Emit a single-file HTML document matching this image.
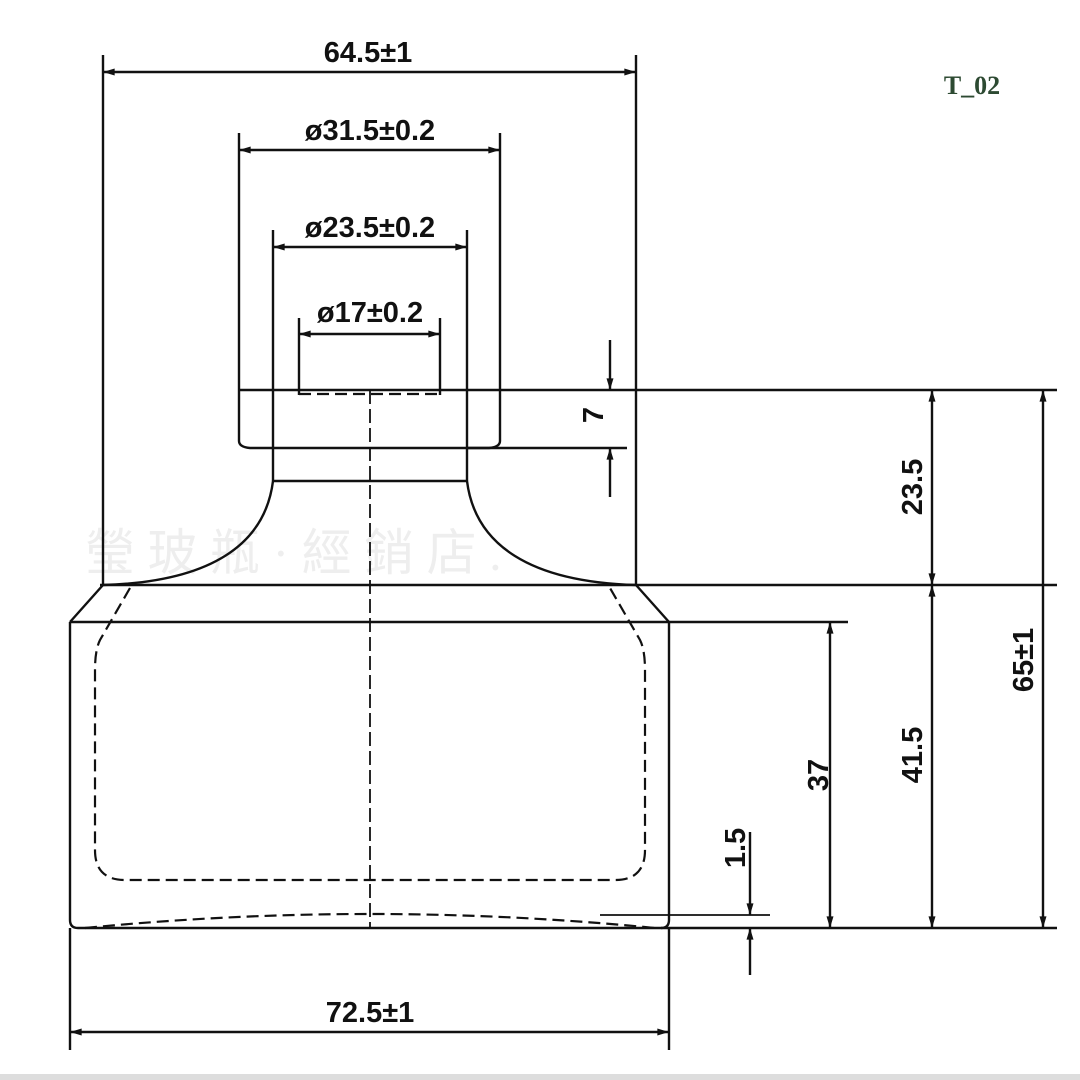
<!DOCTYPE html>
<html><head><style>
html,body{margin:0;padding:0;background:#fff;}
svg{display:block}
.t{font-family:"Liberation Sans",sans-serif;font-weight:bold;font-size:29px;fill:#111;}
</style></head><body>
<svg width="1080" height="1080" viewBox="0 0 1080 1080" xmlns="http://www.w3.org/2000/svg">
<defs>
<marker id="a" viewBox="0 0 10 6" refX="10" refY="3" markerWidth="18" markerHeight="7" orient="auto-start-reverse" markerUnits="userSpaceOnUse"><path d="M0,0 L10,3 L0,6z" fill="#111"/></marker>
</defs>
<rect x="0" y="1074" width="1080" height="6" fill="#ddd"/>
<text x="85" y="570" font-family="Liberation Serif" font-size="50" fill="#eee">瑩 玻 瓶 · 經 銷 店          .</text>
<g stroke="#111" stroke-width="2.4" fill="none">
<line x1="103" y1="55" x2="103" y2="585"/>
<line x1="636" y1="55" x2="636" y2="585"/>
<line x1="239" y1="133" x2="239" y2="390"/>
<line x1="500" y1="133" x2="500" y2="390"/>
<line x1="273" y1="230" x2="273" y2="448"/>
<line x1="467" y1="230" x2="467" y2="448"/>
<line x1="299" y1="318" x2="299" y2="395"/>
<line x1="440" y1="318" x2="440" y2="395"/>
<line x1="103" y1="72" x2="636" y2="72" marker-start="url(#a)" marker-end="url(#a)"/>
<line x1="239" y1="150" x2="500" y2="150" marker-start="url(#a)" marker-end="url(#a)"/>
<line x1="273" y1="247" x2="467" y2="247" marker-start="url(#a)" marker-end="url(#a)"/>
<line x1="299" y1="334" x2="440" y2="334" marker-start="url(#a)" marker-end="url(#a)"/>
<line x1="239" y1="390" x2="1057" y2="390"/>
<path d="M239,390 V441 Q239,447 250,448 L273,448 M500,390 V441 Q500,447 489,448 L467,448"/>
<line x1="273" y1="448" x2="627" y2="448"/>
<path d="M273,448 V481 M467,448 V481"/>
<line x1="273" y1="481" x2="467" y2="481"/>
<path d="M273,481 C265,545 210,582 103,585 M467,481 C475,545 530,582 636,585"/>
<line x1="100" y1="585" x2="1057" y2="585"/>
<path d="M103,585 L70,622 M636,585 L669,622"/>
<line x1="70" y1="622" x2="848" y2="622"/>
<path d="M70,622 V920 Q70,928 78,928 L661,928 Q669,928 669,920 V622"/>
<line x1="661" y1="928" x2="1057" y2="928"/>
<line x1="600" y1="915" x2="770" y2="915" stroke-width="1.8"/>
<line x1="70" y1="928" x2="70" y2="1050"/>
<line x1="669" y1="928" x2="669" y2="1050"/>
<line x1="70" y1="1032" x2="669" y2="1032" marker-start="url(#a)" marker-end="url(#a)"/>
<line x1="610" y1="340" x2="610" y2="390" marker-end="url(#a)"/>
<line x1="610" y1="497" x2="610" y2="448" marker-end="url(#a)"/>
<line x1="932" y1="390" x2="932" y2="585" marker-start="url(#a)" marker-end="url(#a)"/>
<line x1="932" y1="585" x2="932" y2="928" marker-start="url(#a)" marker-end="url(#a)"/>
<line x1="1043" y1="390" x2="1043" y2="928" marker-start="url(#a)" marker-end="url(#a)"/>
<line x1="830" y1="622" x2="830" y2="928" marker-start="url(#a)" marker-end="url(#a)"/>
<line x1="750" y1="832" x2="750" y2="915" marker-end="url(#a)"/>
<line x1="750" y1="975" x2="750" y2="928" marker-end="url(#a)"/>
</g>
<g stroke="#111" stroke-width="2.2" fill="none" stroke-dasharray="12,6">
<line x1="299" y1="394" x2="440" y2="394"/>
<line x1="370" y1="390" x2="370" y2="928" stroke-dasharray="14,5" stroke-width="1.8"/>
<path d="M130,588 L100,640 Q95,650 95,670 V850 Q95,880 125,880 H615 Q645,880 645,850 V670 Q645,650 640,640 L610,588"/>
<path d="M85,928 Q370,900 655,928"/>
</g>
<g class="t">
<text x="368" y="62" text-anchor="middle">64.5±1</text>
<text x="370" y="140" text-anchor="middle">ø31.5±0.2</text>
<text x="370" y="237" text-anchor="middle">ø23.5±0.2</text>
<text x="370" y="322" text-anchor="middle">ø17±0.2</text>
<text x="370" y="1022" text-anchor="middle">72.5±1</text>
<text transform="translate(603,415) rotate(-90)" text-anchor="middle">7</text>
<text transform="translate(922,487) rotate(-90)" text-anchor="middle">23.5</text>
<text transform="translate(922,755) rotate(-90)" text-anchor="middle">41.5</text>
<text transform="translate(1033,660) rotate(-90)" text-anchor="middle">65±1</text>
<text transform="translate(828,775) rotate(-90)" text-anchor="middle">37</text>
<text transform="translate(745,848) rotate(-90)" text-anchor="middle">1.5</text>
</g>
<text x="972" y="94" text-anchor="middle" font-family="Liberation Serif" font-weight="bold" font-size="26" fill="#2d4a32">T_02</text>
</svg>
</body></html>
